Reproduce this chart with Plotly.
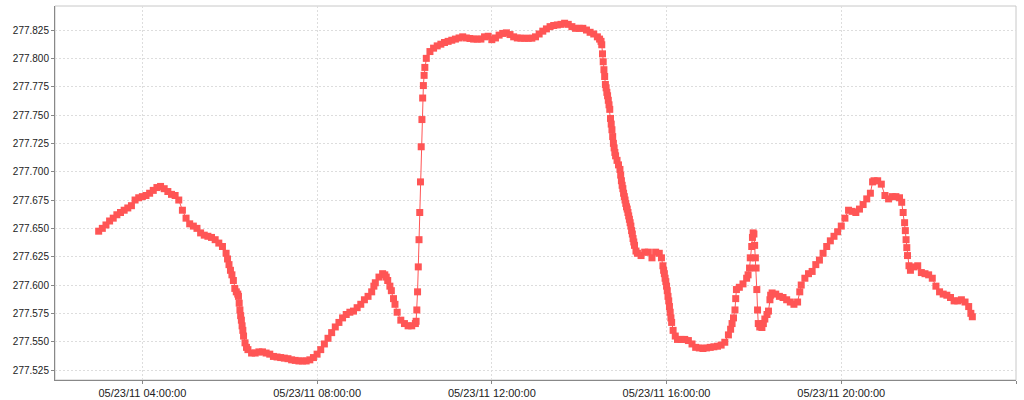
import plotly.graph_objects as go

# Readings for 2011-05-23, times as HH:MM
times = [
    "03:00", "03:05", "03:10", "03:15", "03:20", "03:25", "03:30", "03:35", "03:40", "03:45",
    "03:50", "03:55", "04:00", "04:05", "04:10", "04:15", "04:20", "04:25", "04:30", "04:35",
    "04:40", "04:45", "04:50", "04:55", "05:00", "05:05", "05:10", "05:15", "05:20", "05:25",
    "05:30", "05:35", "05:40", "05:45", "05:50", "05:55", "05:57", "05:59", "06:01", "06:03",
    "06:05", "06:07", "06:09", "06:11", "06:12", "06:13", "06:14", "06:15", "06:16", "06:17",
    "06:18", "06:19", "06:21", "06:23", "06:25", "06:30", "06:35", "06:40", "06:45", "06:50",
    "06:55", "07:00", "07:05", "07:10", "07:15", "07:20", "07:25", "07:30", "07:35", "07:40",
    "07:45", "07:50", "07:55", "08:00", "08:05", "08:10", "08:15", "08:20", "08:25", "08:30",
    "08:35", "08:40", "08:45", "08:50", "08:55", "09:00", "09:05", "09:10", "09:15", "09:18",
    "09:20", "09:25", "09:30", "09:33", "09:35", "09:37", "09:40", "09:42", "09:45", "09:47",
    "09:50", "09:55", "10:00", "10:05", "10:10", "10:15", "10:16", "10:17", "10:18", "10:19",
    "10:20", "10:21", "10:22", "10:23", "10:24", "10:25", "10:26", "10:27", "10:28", "10:30",
    "10:35", "10:40", "10:45", "10:50", "10:55", "11:00", "11:05", "11:10", "11:15", "11:20",
    "11:25", "11:30", "11:35", "11:40", "11:45", "11:50", "11:55", "12:00", "12:05", "12:10",
    "12:15", "12:20", "12:25", "12:30", "12:35", "12:40", "12:45", "12:50", "12:55", "13:00",
    "13:05", "13:10", "13:15", "13:20", "13:25", "13:30", "13:35", "13:40", "13:45", "13:50",
    "13:55", "14:00", "14:05", "14:10", "14:15", "14:20", "14:25", "14:28", "14:30", "14:31",
    "14:32", "14:33", "14:34", "14:35", "14:36", "14:37", "14:38", "14:39", "14:40", "14:41",
    "14:42", "14:43", "14:44", "14:45", "14:46", "14:47", "14:48", "14:49", "14:50", "14:52",
    "14:54", "14:56", "14:57", "14:58", "14:59", "15:00", "15:01", "15:02", "15:03", "15:04",
    "15:05", "15:06", "15:07", "15:08", "15:09", "15:10", "15:11", "15:12", "15:13", "15:14",
    "15:15", "15:16", "15:18", "15:20", "15:25", "15:30", "15:35", "15:40", "15:45", "15:50",
    "15:53", "15:55", "15:56", "15:57", "15:58", "15:59", "16:00", "16:01", "16:02", "16:03",
    "16:04", "16:05", "16:06", "16:07", "16:09", "16:12",
    "16:15", "16:20", "16:25", "16:30", "16:35", "16:40", "16:45", "16:50", "16:55", "17:00",
    "17:05", "17:10", "17:15", "17:20", "17:25", "17:28", "17:30", "17:32", "17:34", "17:35",
    "17:36", "17:40", "17:45", "17:50", "17:52", "17:54", "17:55", "17:57", "17:58", "17:59",
    "18:00", "18:01", "18:02", "18:03", "18:04", "18:05", "18:06", "18:08", "18:11", "18:13",
    "18:15", "18:18", "18:20", "18:22", "18:23", "18:25", "18:30", "18:35", "18:40", "18:45",
    "18:50", "18:55", "19:00", "19:03", "19:05", "19:10", "19:15", "19:20", "19:25", "19:30",
    "19:35", "19:40", "19:45", "19:50", "19:55", "20:00", "20:05", "20:10", "20:15", "20:20",
    "20:25", "20:30", "20:35", "20:40", "20:43", "20:45", "20:50", "20:55", "21:00", "21:05",
    "21:10", "21:15", "21:20", "21:23", "21:25", "21:27", "21:28", "21:29", "21:30", "21:31",
    "21:33", "21:35", "21:40", "21:45", "21:50", "21:55", "22:00", "22:05", "22:10", "22:15",
    "22:20", "22:25", "22:30", "22:35", "22:40", "22:45", "22:50", "22:55", "22:58", "23:00",
]

values = [
    277.6475, 277.650, 277.653, 277.6565, 277.659, 277.662, 277.664, 277.666, 277.668, 277.670,
    277.675, 277.677, 277.678, 277.679, 277.681, 277.6835, 277.686, 277.687, 277.685, 277.6825,
    277.680, 277.679, 277.675, 277.666, 277.659, 277.654, 277.652, 277.650, 277.646, 277.644,
    277.643, 277.642, 277.640, 277.637, 277.634, 277.628, 277.623, 277.618, 277.613, 277.609,
    277.604, 277.597, 277.594, 277.592, 277.590, 277.584, 277.578, 277.573, 277.569, 277.564,
    277.560, 277.555, 277.549, 277.545, 277.543, 277.540, 277.540, 277.541, 277.541, 277.540,
    277.539, 277.537, 277.5365, 277.536, 277.5355, 277.535, 277.534, 277.5335, 277.533, 277.533,
    277.533, 277.534, 277.536, 277.539, 277.543, 277.548, 277.553, 277.558, 277.563, 277.567,
    277.571, 277.574, 277.576, 277.577, 277.580, 277.583, 277.587, 277.590, 277.594, 277.599,
    277.602, 277.607, 277.610, 277.609, 277.607, 277.604, 277.599, 277.595, 277.588, 277.583,
    277.576, 277.569, 277.566, 277.564, 277.564, 277.566, 277.568, 277.578, 277.594, 277.616,
    277.640, 277.664, 277.691, 277.722, 277.746, 277.765, 277.776, 277.785, 277.792, 277.800,
    277.806, 277.809, 277.811, 277.8125, 277.814, 277.815, 277.816, 277.817, 277.818, 277.819,
    277.818, 277.8175, 277.817, 277.817, 277.817, 277.819, 277.8195, 277.8165, 277.818, 277.8205,
    277.822, 277.8225, 277.821, 277.819, 277.818, 277.8178, 277.8177, 277.8177, 277.8178, 277.819,
    277.8215, 277.824, 277.826, 277.828, 277.829, 277.8295, 277.830, 277.831, 277.830, 277.828,
    277.8265, 277.8265, 277.8265, 277.825, 277.823, 277.8215, 277.819, 277.817, 277.815, 277.812,
    277.804, 277.797, 277.790, 277.784, 277.777, 277.774, 277.770, 277.767, 277.763, 277.759,
    277.755, 277.747, 277.742, 277.737, 277.731, 277.725, 277.721, 277.717, 277.714, 277.710,
    277.706, 277.702, 277.697, 277.692, 277.688, 277.685, 277.681, 277.678, 277.675, 277.672,
    277.669, 277.667, 277.664, 277.661, 277.658, 277.655, 277.652, 277.648, 277.645, 277.641,
    277.638, 277.635, 277.630, 277.628, 277.626, 277.629, 277.629, 277.624, 277.629, 277.628,
    277.624, 277.617, 277.613, 277.610, 277.606, 277.603, 277.599, 277.595, 277.590, 277.586,
    277.581, 277.576, 277.571, 277.567, 277.560, 277.555,
    277.552, 277.552, 277.552, 277.551, 277.548, 277.545, 277.5445, 277.544, 277.5445, 277.545,
    277.5455, 277.546, 277.547, 277.5495, 277.556, 277.561, 277.566, 277.571, 277.578, 277.588,
    277.596, 277.598, 277.601, 277.606, 277.609, 277.615, 277.624, 277.634, 277.642, 277.646,
    277.645, 277.635, 277.624, 277.615, 277.596, 277.578, 277.566, 277.563, 277.5625, 277.566,
    277.570, 277.574, 277.577, 277.587, 277.591, 277.593, 277.592, 277.590, 277.589, 277.587,
    277.585, 277.583, 277.585, 277.594, 277.600, 277.606, 277.610, 277.612, 277.618, 277.622,
    277.628, 277.634, 277.639, 277.643, 277.647, 277.652, 277.659, 277.666, 277.665, 277.664,
    277.667, 277.671, 277.676, 277.681, 277.691, 277.692, 277.692, 277.689, 277.679, 277.676,
    277.678, 277.678, 277.677, 277.673, 277.664, 277.655, 277.648, 277.640, 277.633, 277.626,
    277.617, 277.613, 277.616, 277.617, 277.611, 277.610, 277.609, 277.606, 277.599, 277.594,
    277.592, 277.591, 277.589, 277.586, 277.586, 277.587, 277.585, 277.581, 277.575, 277.572,
]

day = "2011-05-23"
x = [day + " " + t for t in times]

series_color = "#FF5555"
grid_color = "#dddddd"
axis_color = "#888888"

fig = go.Figure()
fig.add_trace(
    go.Scatter(
        x=x,
        y=values,
        mode="lines+markers",
        line=dict(color=series_color, width=1),
        marker=dict(symbol="square", size=7, color=series_color, line=dict(width=0)),
        showlegend=False,
    )
)

fig.update_layout(
    width=1024,
    height=400,
    margin=dict(l=55, r=8, t=6, b=20),
    paper_bgcolor="white",
    plot_bgcolor="white",
    font=dict(family="Liberation Sans", size=10, color="#222222"),
    xaxis=dict(
        type="date",
        range=["2011-05-23 02:00", "2011-05-24 00:00"],
        tick0="2011-05-23 00:00",
        dtick=4 * 3600 * 1000,
        tickformat="%m/%d/%y %H:%M:%S",
        tickfont=dict(size=11),
        showgrid=True,
        gridcolor=grid_color,
        griddash="2px,2px",
        gridwidth=1,
        showline=True,
        linecolor=axis_color,
        linewidth=1,
        ticks="outside",
        ticklen=3,
        tickcolor=axis_color,
        zeroline=False,
        automargin=False,
    ),
    yaxis=dict(
        range=[277.5162, 277.8462],
        tick0=277.5,
        dtick=0.025,
        tickformat=".3f",
        showgrid=True,
        gridcolor=grid_color,
        griddash="2px,2px",
        gridwidth=1,
        showline=True,
        linecolor=axis_color,
        linewidth=1,
        ticks="outside",
        ticklen=3,
        tickcolor=axis_color,
        zeroline=False,
        automargin=False,
    ),
    shapes=[
        dict(
            type="rect", xref="paper", yref="paper", x0=0, y0=0, x1=1, y1=1,
            line=dict(color="#c8c8c8", width=1), layer="below",
        )
    ],
)

# the page body has a default 8px margin; drop it so the chart sits at 0,0
fig.write_html(
    "out.html",
    config={"displayModeBar": False},
    post_script="document.body.style.margin = '0';",
)
